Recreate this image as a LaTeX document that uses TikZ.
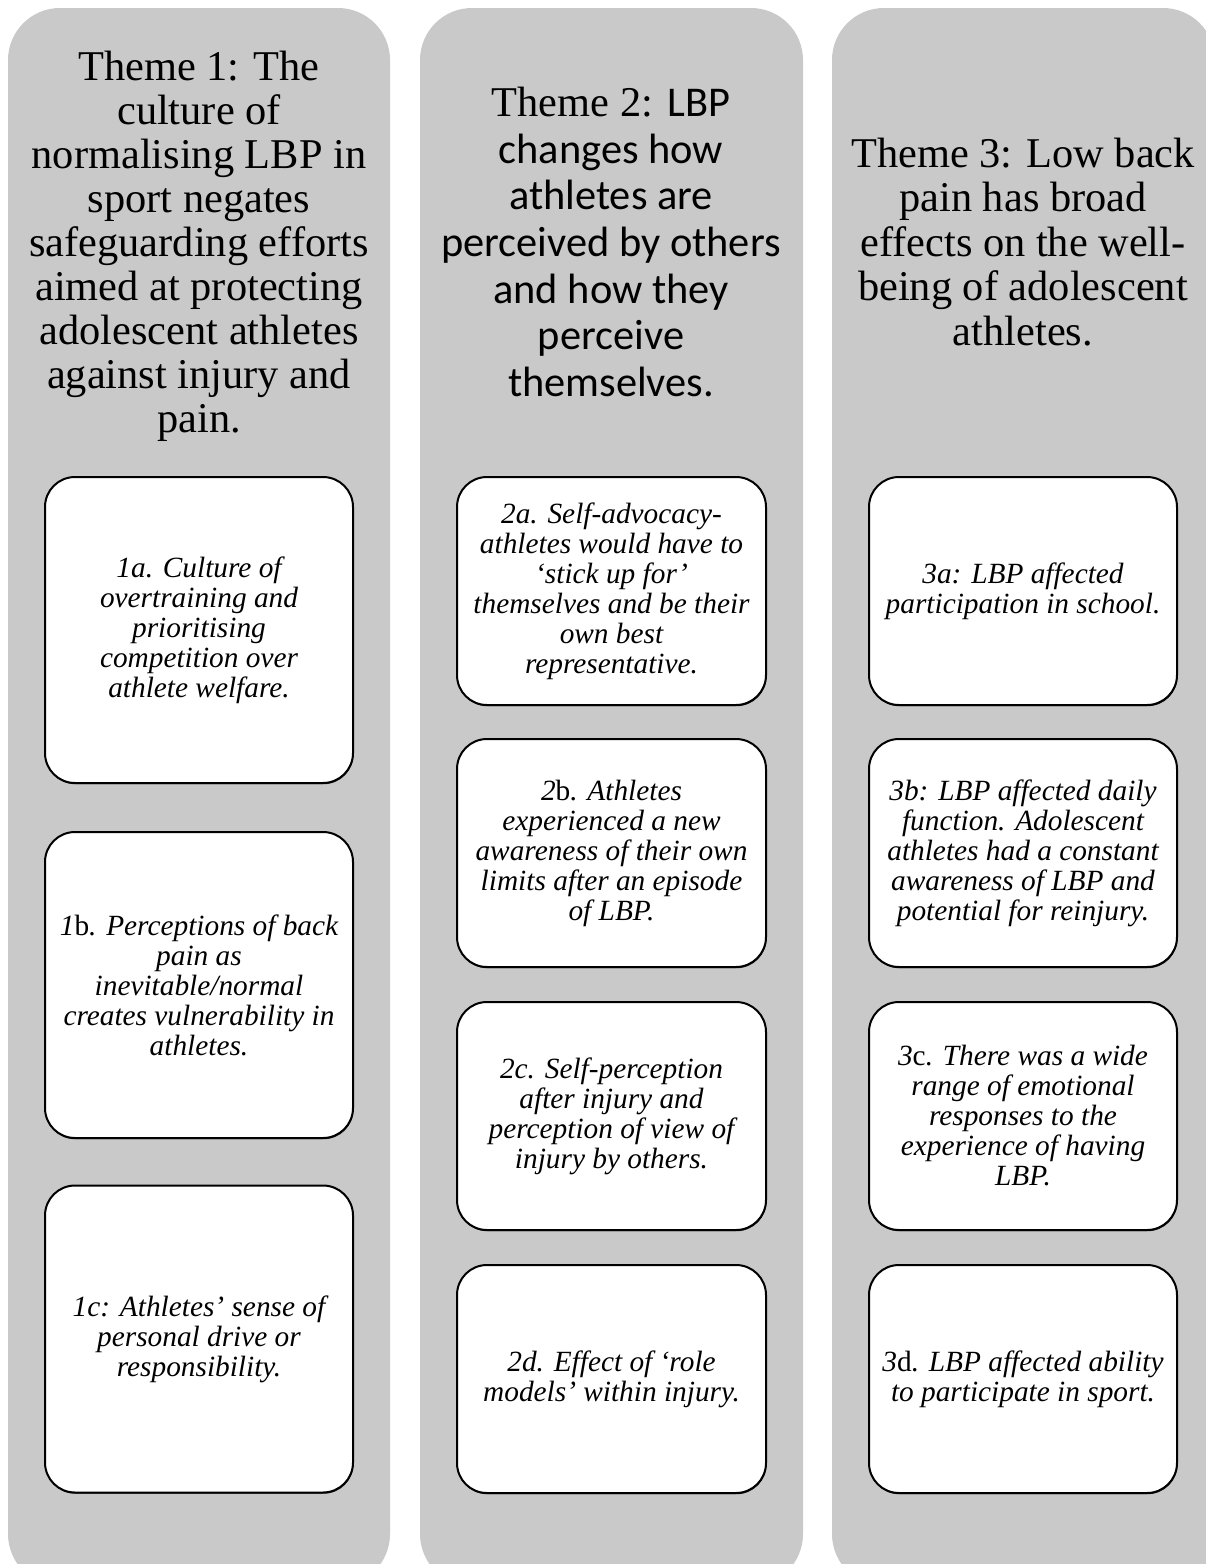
\documentclass[tikz,border=0pt]{standalone}
\usepackage{fontspec}
\setmainfont{Liberation Serif}
\newfontfamily\calibfont{Carlito}
\usetikzlibrary{shadows}
\definecolor{colgray}{RGB}{201,201,201}
\begin{document}
\begin{tikzpicture}[x=0.75pt,y=-0.75pt,
  column/.style={fill=colgray, draw=none, rounded corners=39pt},
  itembox/.style={draw=black, line width=1.5pt, fill=white, rounded corners=22.5pt,
    inner sep=0pt, align=center,
    drop shadow={shadow xshift=0.4pt, shadow yshift=-0.9pt, fill=black, opacity=0.8},
    font=\fontsize{22}{22.5}\selectfont\itshape},
  themetext/.style={align=center, inner sep=0pt, font=\fontsize{31.8}{33}\selectfont}
]
\clip (0,0) rectangle (1206,1564);

% grey theme columns
\fill[column] (8,8) rectangle (390,1586);
\fill[column] (420,8) rectangle (803,1586);
\fill[column] (832,8) rectangle (1215,1586);

% theme headings
\node[themetext] (t1) at (199,246) {Theme 1: The\\culture of\\normalising LBP in\\sport negates\\safeguarding efforts\\aimed at protecting\\adolescent athletes\\against injury and\\pain.};
\node[themetext, font=\fontsize{31.8}{35}\selectfont] (t2) at (611,242) {Theme 2: {\calibfont LBP}\\{\calibfont changes how}\\{\calibfont athletes are}\\{\calibfont perceived by others}\\{\calibfont and how they}\\{\calibfont perceive}\\{\calibfont themselves.}};
\node[themetext, font=\fontsize{31.8}{33.4}\selectfont] (t3) at (1023,242) {Theme 3: Low back\\pain has broad\\effects on the well-\\being of adolescent\\athletes.};

% sub-theme boxes, theme 1
\node[itembox, minimum width={308*0.75pt}, minimum height={306*0.75pt}] (b1a) at (199,630)
  {1a. Culture of\\overtraining and\\prioritising\\competition over\\athlete welfare.};
\node[itembox, minimum width={308*0.75pt}, minimum height={306*0.75pt}] (b1b) at (199,985)
  {1\textup{b}. Perceptions of back\\pain as\\inevitable/normal\\creates vulnerability in\\athletes.};
\node[itembox, minimum width={308*0.75pt}, minimum height={307*0.75pt}] (b1c) at (199,1339)
  {1c: Athletes’ sense of\\personal drive or\\responsibility.};

% sub-theme boxes, theme 2
\node[itembox, minimum width={309*0.75pt}, minimum height={228*0.75pt}] (b2a) at (611.5,591)
  {2a. Self-advocacy-\\athletes would have to\\‘stick up for’\\themselves and be their\\own best\\representative.};
\node[itembox, minimum width={309*0.75pt}, minimum height={228*0.75pt}] (b2b) at (611.5,853)
  {2\textup{b}. Athletes\\experienced a new\\awareness of their own\\limits after an episode\\of LBP.};
\node[itembox, minimum width={309*0.75pt}, minimum height={228*0.75pt}] (b2c) at (611.5,1116)
  {2c. Self-perception\\after injury and\\perception of view of\\injury by others.};
\node[itembox, minimum width={309*0.75pt}, minimum height={228*0.75pt}] (b2d) at (611.5,1379)
  {2d. Effect of ‘role\\models’ within injury.};

% sub-theme boxes, theme 3
\node[itembox, minimum width={308*0.75pt}, minimum height={228*0.75pt}] (b3a) at (1023,591)
  {3a: LBP affected\\participation in school.};
\node[itembox, minimum width={308*0.75pt}, minimum height={228*0.75pt}] (b3b) at (1023,853)
  {3b: LBP affected daily\\function. Adolescent\\athletes had a constant\\awareness of LBP and\\potential for reinjury.};
\node[itembox, minimum width={308*0.75pt}, minimum height={228*0.75pt}] (b3c) at (1023,1116)
  {3\textup{c}. There was a wide\\range of emotional\\responses to the\\experience of having\\LBP.};
\node[itembox, minimum width={308*0.75pt}, minimum height={228*0.75pt}] (b3d) at (1023,1379)
  {3\textup{d}. LBP affected ability\\to participate in sport.};
\end{tikzpicture}
\end{document}
